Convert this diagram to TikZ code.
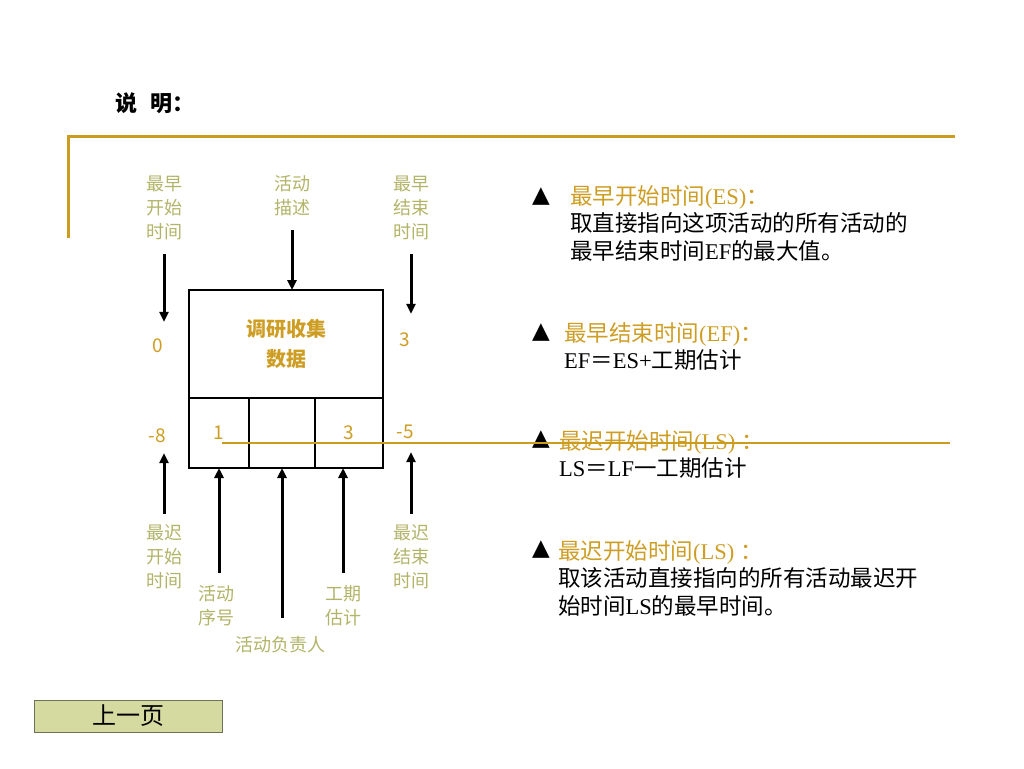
\documentclass[tikz,border=0pt]{standalone}
\usepackage{fontspec}
\setmainfont{Liberation Serif}
\newfontfamily\cjk{Noto Sans CJK SC}
\newfontfamily\symfont{DejaVu Sans}
\usepackage{xcolor}
\usetikzlibrary{positioning,arrows.meta}
\definecolor{framegold}{RGB}{204,156,30}
\definecolor{textgold}{RGB}{206,158,36}
\definecolor{labelolive}{RGB}{178,180,104}
\definecolor{btnfill}{RGB}{212,218,160}
\definecolor{btnedge}{RGB}{110,112,88}
\newcommand{\zh}[1]{{\cjk #1}}
\tikzset{
lbl/.style={font=\cjk\fontsize{18}{24}\selectfont, text=labelolive, align=center, inner sep=0pt},
num/.style={font=\cjk\fontsize{19}{20}\selectfont, text=textgold, inner sep=0pt},
cell/.style={draw, line width=1.3pt, minimum height=70pt, inner sep=0pt, outer sep=0pt, num},
arr/.style={line width=3pt, -{Triangle[length=10pt,width=9pt]}},
bullet/.style={font=\symfont\fontsize{23}{24}\selectfont, inner sep=0pt},
note/.style={font=\fontsize{22.5}{27.5}\selectfont, align=left, inner sep=0pt, anchor=north west},
goldline/.style={draw=framegold, line width=3pt}
}
\begin{document}
\begin{tikzpicture}[x=1pt, y=-1pt]
\useasboundingbox[fill=white] (0,0) rectangle (1024,768);
\node[font=\cjk\bfseries\fontsize{22}{24}\selectfont] (title) at (155,103) {说\hspace{0.6em}明：};
\draw[goldline] (68,238) -- (68,136) -- (955,136);
% the activity box
\node[cell, minimum width=194pt, minimum height=108pt, align=center, font=\cjk\bfseries\fontsize{20}{30}\selectfont] (box) at (286,344) {调研收集\\数据};
\node[cell, minimum width=60pt, below=0pt of box.south west, anchor=north west] (cNo) {1};
\node[cell, minimum width=66pt, right=0pt of cNo] (cOwner) {};
\node[cell, minimum width=68pt, right=0pt of cOwner] (cDur) {3};
% labels round the box
\node[lbl] (lES) at (164,208) {最早\\开始\\时间};
\node[lbl] (lDesc) at (292,196) {活动\\描述};
\node[lbl] (lEF) at (411,208) {最早\\结束\\时间};
\node[lbl] (lLS) at (164,557) {最迟\\开始\\时间};
\node[lbl] (lLF) at (411,557) {最迟\\结束\\时间};
\node[lbl] (lNo) at (216,606) {活动\\序号};
\node[lbl] (lDur) at (343,606) {工期\\估计};
\node[lbl] (lOwner) at (280,645) {活动负责人};
\node[num] (nES) at (158,346) {0};
\node[num] (nEF) at (405,340) {3};
\node[num] (nLS) at (157,436) {-8};
\node[num] (nLF) at (405,432) {-5};
\draw[arr, shorten <=14pt, shorten >=17pt] (lES.south) -- (lES.south |- nES.north);
\draw[arr, shorten <=14pt] (lDesc.south) -- (lDesc.south |- box.north);
\draw[arr, shorten <=14pt, shorten >=19pt] (lEF.south) -- (lEF.south |- nEF.north);
\draw[arr, shorten <=11pt, shorten >=10pt] (lLS.north) -- (lLS.north |- nLS.south);
\draw[arr, shorten <=11pt, shorten >=13pt] (lLF.north) -- (lLF.north |- nLF.south);
\draw[arr, shorten <=13pt] (cNo.south |- lNo.north) -- (cNo.south);
\draw[arr, shorten <=19pt] (cOwner.south |- lOwner.north) -- (cOwner.south);
\draw[arr, shorten <=13pt] (lDur.north) -- (lDur.north |- cDur.south);
% notes on the right
\node[bullet] (tri1) at (541,197) {▲};
\node[bullet] (tri2) at (541,333) {▲};
\node[bullet] (tri3) at (541,440) {▲};
\node[bullet] (tri4) at (541,550) {▲};
\node[note] (es) at (570,185) {\textcolor{textgold}{\zh{最早开始时间}(ES)\zh{：}}\\
\zh{取直接指向这项活动的所有活动的}\\
\zh{最早结束时间}EF\zh{的最大值。}};
\node[note] (ef) at (564,322) {\textcolor{textgold}{\zh{最早结束时间}(EF)\zh{：}}\\
EF\zh{＝}ES+\zh{工期估计}};
\node[note] (ls) at (559,430) {\textcolor{textgold}{\zh{最迟开始时间}(LS) \zh{：}}\\
LS\zh{＝}LF\zh{一工期估计}};
\node[note] (lsb) at (558,540) {\textcolor{textgold}{\zh{最迟开始时间}(LS) \zh{：}}\\
\zh{取该活动直接指向的所有活动最迟开}\\
\zh{始时间}LS\zh{的最早时间。}};
\draw[draw=framegold, line width=2pt] (222,443) -- (950,443);
\node[draw=btnedge, fill=btnfill, line width=1pt, minimum width=188pt, minimum height=32pt, font=\cjk\fontsize{24}{26}\selectfont] (prev) at (128,716) {上一页};
\end{tikzpicture}
\end{document}
